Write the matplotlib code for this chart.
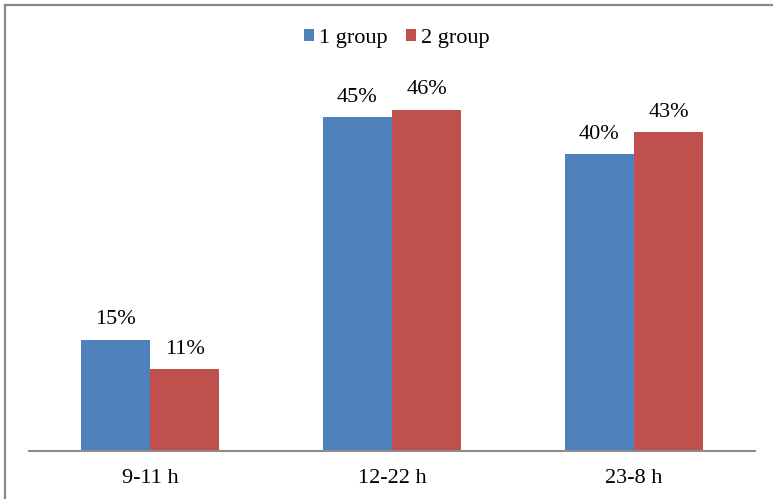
import matplotlib.pyplot as plt
from matplotlib.lines import Line2D
import numpy as np

categories = ["9-11 h", "12-22 h", "23-8 h"]
group1 = [15, 45, 40]
group2 = [11, 46, 43]
series_names = ["1 group", "2 group"]

plt.rcParams['font.family'] = ['Liberation Serif', 'DejaVu Serif']

W, H = 773, 499
fig = plt.figure(figsize=(W / 100, H / 100), dpi=100)
ax = fig.add_axes([29 / W, 1 - 451 / H, (755 - 29) / W, (451 - 80) / H])

x = np.arange(len(categories))
w = 0.287
b1 = ax.bar(x - w / 2, group1, w, color='#4F81BD', label=series_names[0])
b2 = ax.bar(x + w / 2, group2, w, color='#C0504D', label=series_names[1])

for bars, vals in ((b1, group1), (b2, group2)):
    for rect, v in zip(bars, vals):
        ax.annotate(f"{v}%", (rect.get_x() + rect.get_width() / 2, v),
                    xytext=(0, 7.5), textcoords='offset points',
                    ha='center', va='bottom', fontsize=16)

ax.set_xlim(-0.5, 2.5)
ax.set_ylim(0, 50)
ax.set_xticks(x)
ax.set_xticklabels(categories, fontsize=16)
ax.tick_params(axis='x', length=0, pad=13)
ax.set_yticks([])
for side in ('left', 'right', 'top'):
    ax.spines[side].set_visible(False)
ax.spines['bottom'].set_color('#8c8c8c')
ax.spines['bottom'].set_linewidth(1.5)

fig.legend(loc='center', bbox_to_anchor=(397 / W, 1 - 38 / H), ncol=2,
           frameon=False, fontsize=16, handlelength=0.45, handleheight=0.45,
           handletextpad=0.25, columnspacing=0.8)

# outer frame: left and top edges
fig.add_artist(Line2D([5 / W, 5 / W], [0, 1 - 5 / H], transform=fig.transFigure,
                      color='#888888', lw=1.6))
fig.add_artist(Line2D([5 / W, 1], [1 - 5 / H, 1 - 5 / H], transform=fig.transFigure,
                      color='#888888', lw=1.6))

fig.savefig('out.png', dpi=100)
